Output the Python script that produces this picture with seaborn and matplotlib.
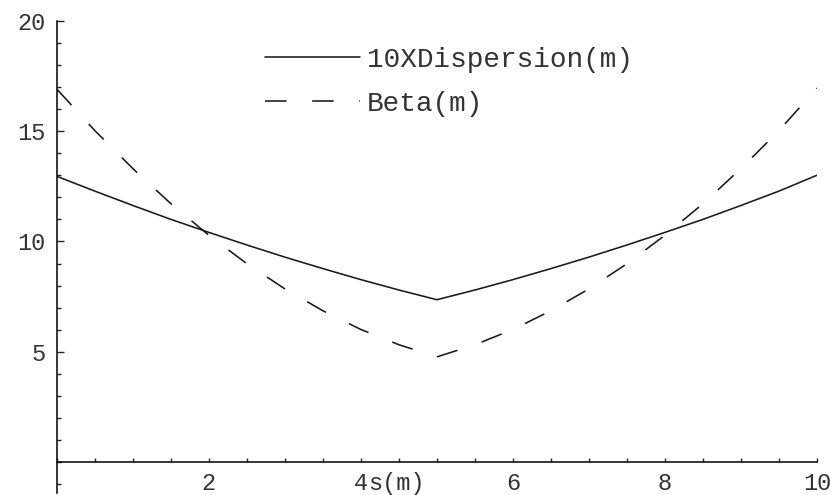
import pandas as pd
import matplotlib
matplotlib.use('Agg')
import matplotlib.pyplot as plt
from matplotlib.ticker import MultipleLocator, FixedLocator
import seaborn as sns

# values
s_m = [0, 0.5, 1, 1.5, 2, 2.5, 3, 3.5, 4, 4.5, 5,
       5.5, 6, 6.5, 7, 7.5, 8, 8.5, 9, 9.5, 10]
dispersion_10x = [12.95, 12.28, 11.63, 11.00, 10.41, 9.84, 9.29, 8.77, 8.27, 7.80, 7.36,
                  7.80, 8.27, 8.77, 9.29, 9.84, 10.41, 11.00, 11.63, 12.28, 13.00]
beta = [16.90, 15.02, 13.30, 11.71, 10.28, 8.99, 7.85, 6.86, 6.01, 5.32, 4.77,
        5.32, 6.01, 6.86, 7.85, 8.99, 10.28, 11.71, 13.30, 15.02, 16.95]
series_names = ['10XDispersion(m)', 'Beta(m)']
x_ticks = [2, 4, 6, 8, 10]
y_ticks = [5, 10, 15, 20]

df = pd.concat([
    pd.DataFrame({'s': s_m, 'value': dispersion_10x, 'series': series_names[0]}),
    pd.DataFrame({'s': s_m, 'value': beta, 'series': series_names[1]}),
])

sns.set_style('ticks')
plt.rcParams['font.family'] = ['Liberation Mono', 'DejaVu Sans Mono']

fig = plt.figure(figsize=(8.37, 4.95), dpi=100)
ax = fig.add_axes([0.068, 0.004, 0.908, 0.954])

sns.lineplot(data=df, x='s', y='value', hue='series', style='series',
             palette=['#1a1a1a', '#1a1a1a'],
             dashes={series_names[0]: '', series_names[1]: (13.5, 16)},
             linewidth=1.15, ax=ax)

ax.set_xlim(0, 10)
ax.set_ylim(-1.4, 20)

# Mathematica style axes crossing at origin
ax.spines['top'].set_visible(False)
ax.spines['right'].set_visible(False)
ax.spines['bottom'].set_position(('data', 0))
for sp in ['left', 'bottom']:
    ax.spines[sp].set_linewidth(1.1)
    ax.spines[sp].set_color('black')

ax.xaxis.set_major_locator(FixedLocator(x_ticks))
ax.xaxis.set_minor_locator(MultipleLocator(0.5))
ax.yaxis.set_major_locator(FixedLocator(y_ticks))
ax.yaxis.set_minor_locator(MultipleLocator(1))
ax.set_xticklabels([str(t) for t in x_ticks])
ax.set_yticklabels([str(t) for t in y_ticks])

ax.tick_params(axis='x', which='major', direction='in', length=3, width=1, pad=7,
               labelsize=17)
ax.tick_params(axis='x', which='minor', direction='in', length=3, width=1)
ax.tick_params(axis='y', which='major', direction='in', length=5, width=1, pad=8,
               labelsize=17)
ax.tick_params(axis='y', which='minor', direction='in', length=3, width=1)
ax.tick_params(labelcolor='#333333')

ax.set_xlabel('')
ax.set_ylabel('')
ax.annotate('s(m)', xy=(4.1, 0), xycoords='data', xytext=(0, -7),
            textcoords='offset points', ha='left', va='top',
            fontsize=17, color='#333333')

ax.legend(title=None, frameon=False, loc='upper left',
          bbox_to_anchor=(0.274, 0.945), borderaxespad=0, borderpad=0,
          handlelength=3.4, handletextpad=0.25, labelspacing=0.65,
          fontsize=20, labelcolor='#333333')

fig.savefig('out.png', dpi=100)
